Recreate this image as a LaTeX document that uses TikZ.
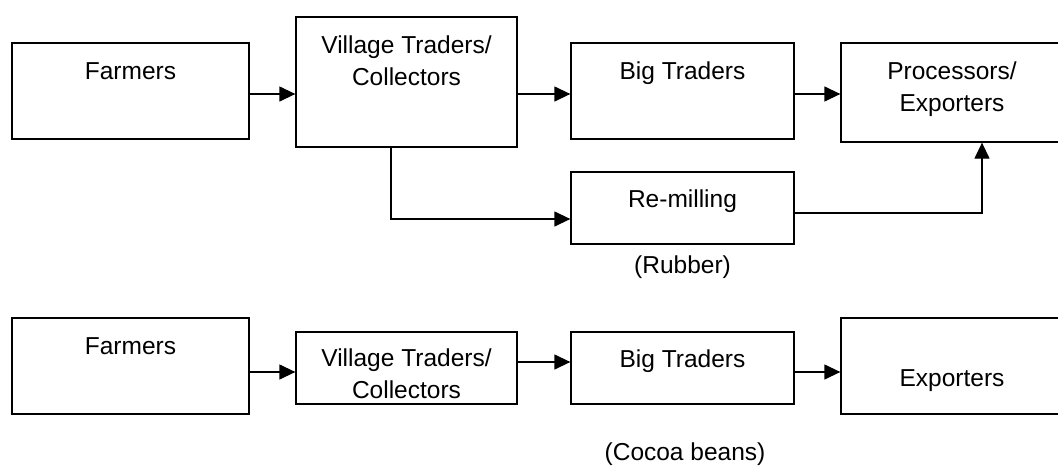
\documentclass[tikz,border=0pt]{standalone}
\usepackage{fontspec}
\setmainfont{Liberation Sans}
\usetikzlibrary{arrows.meta,positioning}
\tikzset{
    stagebox/.style = {draw, rectangle, line width=1.3pt, inner sep=0pt},
    stagetext/.style = {font=\fontsize{24.5}{32}\selectfont, align=center, inner sep=0pt, anchor=base},
    flow/.style = {-{Triangle[length=16pt,width=15pt]}, line width=1.3pt},
}

\begin{document}
\begin{tikzpicture}[x=1pt, y=-1pt]
\useasboundingbox (0,0) rectangle (1058,466);
\clip (0,0) rectangle (1058,466);

% rubber chain
\node[stagebox, minimum width=237, minimum height=96] (far1) at (130.5,91) {};
\node[stagebox, minimum width=221, minimum height=130] (vt1) at (406.5,82) {};
\node[stagebox, minimum width=223, minimum height=96] (bt1) at (682.5,91) {};
\node[stagebox, minimum width=222, minimum height=99] (pe1) at (952,92.5) {};
\node[stagebox, minimum width=223, minimum height=72] (rm) at (682.5,208) {};

% base anchor of two-line text sits on its second line
\node[stagetext] (far1-txt) at ([yshift=-37pt]far1.north) {Farmers};
\node[stagetext] (vt1-txt) at ([yshift=-69pt]vt1.north) {Village Traders/\\Collectors};
\node[stagetext] (bt1-txt) at ([yshift=-37pt]bt1.north) {Big Traders};
\node[stagetext] (pe1-txt) at ([yshift=-69pt]pe1.north) {Processors/\\Exporters};
\node[stagetext] (rm-txt) at ([yshift=-36pt]rm.north) {Re-milling};
\node[stagetext] (rubber) at ([yshift=-29pt]rm.south) {(Rubber)};

\draw[flow] ([yshift=-3pt]far1.east) -- ([yshift=-12pt]vt1.west);
\draw[flow] ([yshift=-12pt]vt1.east) -- ([yshift=-3pt]bt1.west);
\draw[flow] ([yshift=-3pt]bt1.east) -- ([yshift=-1.5pt]pe1.west);
\draw[flow] ([xshift=-15.5pt]vt1.south) |- ([yshift=-11pt]rm.west);
\draw[flow] ([xshift=-2pt,yshift=-5pt]rm.east) -| ([xshift=30pt]pe1.south);

% cocoa chain
\node[stagebox, minimum width=237, minimum height=96] (far2) at (130.5,366) {};
\node[stagebox, minimum width=221, minimum height=72] (vt2) at (406.5,368) {};
\node[stagebox, minimum width=223, minimum height=72] (bt2) at (682.5,368) {};
\node[stagebox, minimum width=222, minimum height=96] (ex2) at (952,366) {};

\node[stagetext] (far2-txt) at ([yshift=-37pt]far2.north) {Farmers};
\node[stagetext] (vt2-txt) at ([yshift=-67pt]vt2.north) {Village Traders/\\Collectors};
\node[stagetext] (bt2-txt) at ([yshift=-36pt]bt2.north) {Big Traders};
\node[stagetext] (ex2-txt) at ([yshift=-69pt]ex2.north) {Exporters};
\node[stagetext] (cocoa) at ([xshift=2.5pt,yshift=-56pt]bt2.south) {(Cocoa beans)};

\draw[flow] ([yshift=-6pt]far2.east) -- ([yshift=-4pt]vt2.west);
\draw[flow] ([yshift=6pt]vt2.east) -- ([yshift=6pt]bt2.west);
\draw[flow] ([yshift=-4pt]bt2.east) -- ([yshift=-6pt]ex2.west);
\end{tikzpicture}
\end{document}
